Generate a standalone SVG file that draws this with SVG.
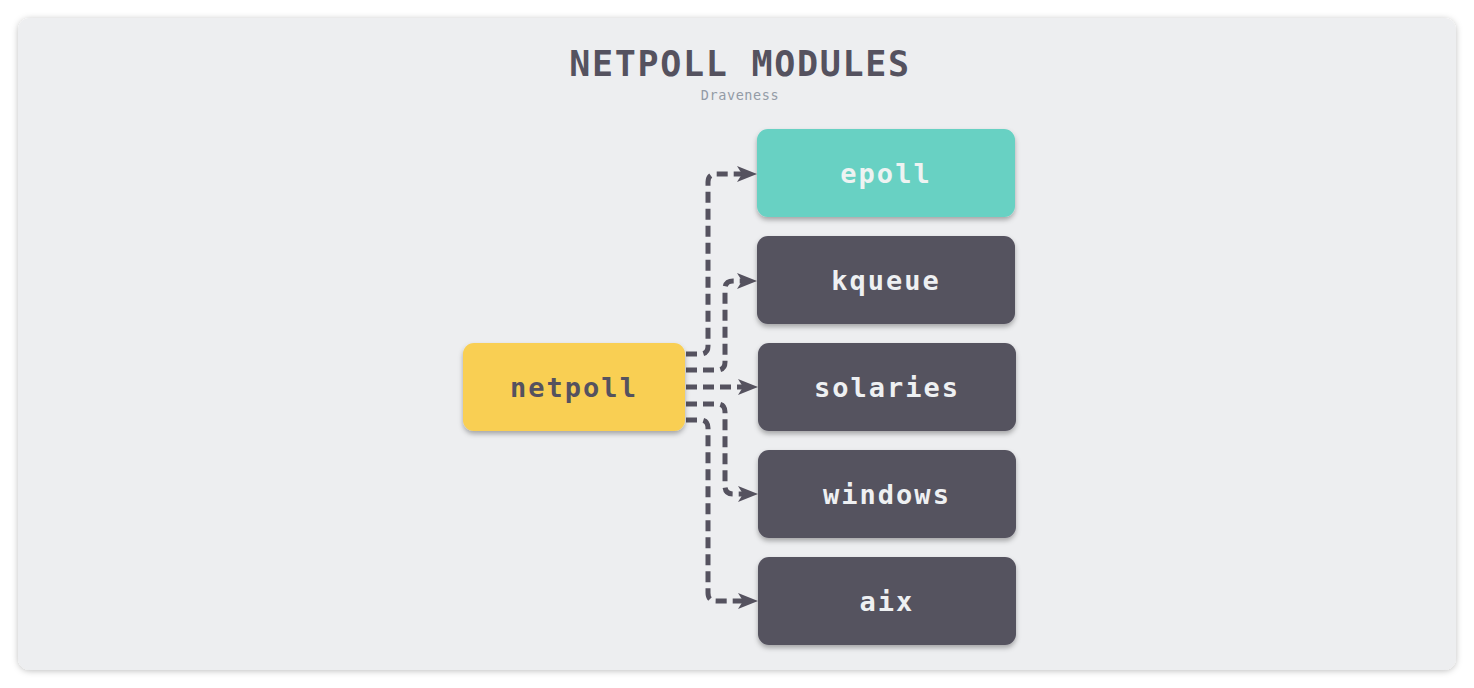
<svg xmlns="http://www.w3.org/2000/svg" width="1474" height="688" viewBox="0 0 1474 688">
<style>
.title{font-family:"DejaVu Sans Mono","Liberation Mono",monospace;font-weight:bold;fill:#55525f}
.sub{font-family:"DejaVu Sans Mono","Liberation Mono",monospace;fill:#939ba6}
.lbl{font-family:"DejaVu Sans Mono","Liberation Mono",monospace;font-weight:bold;font-size:27px;text-anchor:middle;letter-spacing:2px}
.conn{fill:none;stroke:#55525f;stroke-width:5;stroke-dasharray:11 6}
.ah{fill:#55525f}
</style>
<defs>
<filter id="sh" x="-10%" y="-10%" width="120%" height="140%">
<feDropShadow dx="0" dy="3" stdDeviation="2.5" flood-color="#000" flood-opacity="0.3"/>
</filter>
<filter id="psh" x="-5%" y="-5%" width="110%" height="110%">
<feDropShadow dx="0" dy="1" stdDeviation="3" flood-color="#000" flood-opacity="0.25"/>
</filter>
</defs>
<rect width="1474" height="688" fill="#ffffff"/>
<rect x="18" y="18" width="1438" height="652" rx="12" fill="#edeef0" filter="url(#psh)"/>
<text class="title" x="740" y="76" font-size="35" text-anchor="middle" letter-spacing="1.7">NETPOLL MODULES</text>
<text class="sub" x="740" y="100" font-size="13.5" text-anchor="middle" letter-spacing="0.6">Draveness</text>
<g id="connectors">
<path class="conn" d="M686,354 H700 Q708,354 708,346 V182 Q708,174 716,174 H742"/>
<path class="ah" d="M757,174 L737,166 L742,174 L737,182 Z"/>
<path class="conn" d="M686,370 H717 Q725,370 725,362 V289 Q725,281 733,281 H742"/>
<path class="ah" d="M757,281 L737,273 L742,281 L737,289 Z"/>
<path class="conn" d="M686,387 H743"/>
<path class="ah" d="M758,387 L738,379 L743,387 L738,395 Z"/>
<path class="conn" d="M686,404 H717 Q725,404 725,412 V486 Q725,494 733,494 H743"/>
<path class="ah" d="M758,494 L738,486 L743,494 L738,502 Z"/>
<path class="conn" d="M686,420 H700 Q708,420 708,428 V593 Q708,601 716,601 H743"/>
<path class="ah" d="M758,601 L738,593 L743,601 L738,609 Z"/>
</g>
<g id="netpoll">
<rect x="463" y="343" width="222" height="88" rx="11" fill="#f9cf52" filter="url(#sh)"/>
<text class="lbl" x="574" y="397" fill="#55525f" font-size="28">netpoll</text>
</g>
<g id="epoll">
<rect x="757" y="129" width="258" height="88" rx="11" fill="#67d1c3" filter="url(#sh)"/>
<text class="lbl" x="886" y="183" fill="#eef3f2">epoll</text>
</g>
<g id="kqueue">
<rect x="757" y="236" width="258" height="88" rx="11" fill="#55525f" filter="url(#sh)"/>
<text class="lbl" x="886" y="290" fill="#eef0f2">kqueue</text>
</g>
<g id="solaries">
<rect x="758" y="343" width="258" height="88" rx="11" fill="#55525f" filter="url(#sh)"/>
<text class="lbl" x="887" y="397" fill="#eef0f2">solaries</text>
</g>
<g id="windows">
<rect x="758" y="450" width="258" height="88" rx="11" fill="#55525f" filter="url(#sh)"/>
<text class="lbl" x="887" y="504" fill="#eef0f2">windows</text>
</g>
<g id="aix">
<rect x="758" y="557" width="258" height="88" rx="11" fill="#55525f" filter="url(#sh)"/>
<text class="lbl" x="887" y="611" fill="#eef0f2">aix</text>
</g>
</svg>
